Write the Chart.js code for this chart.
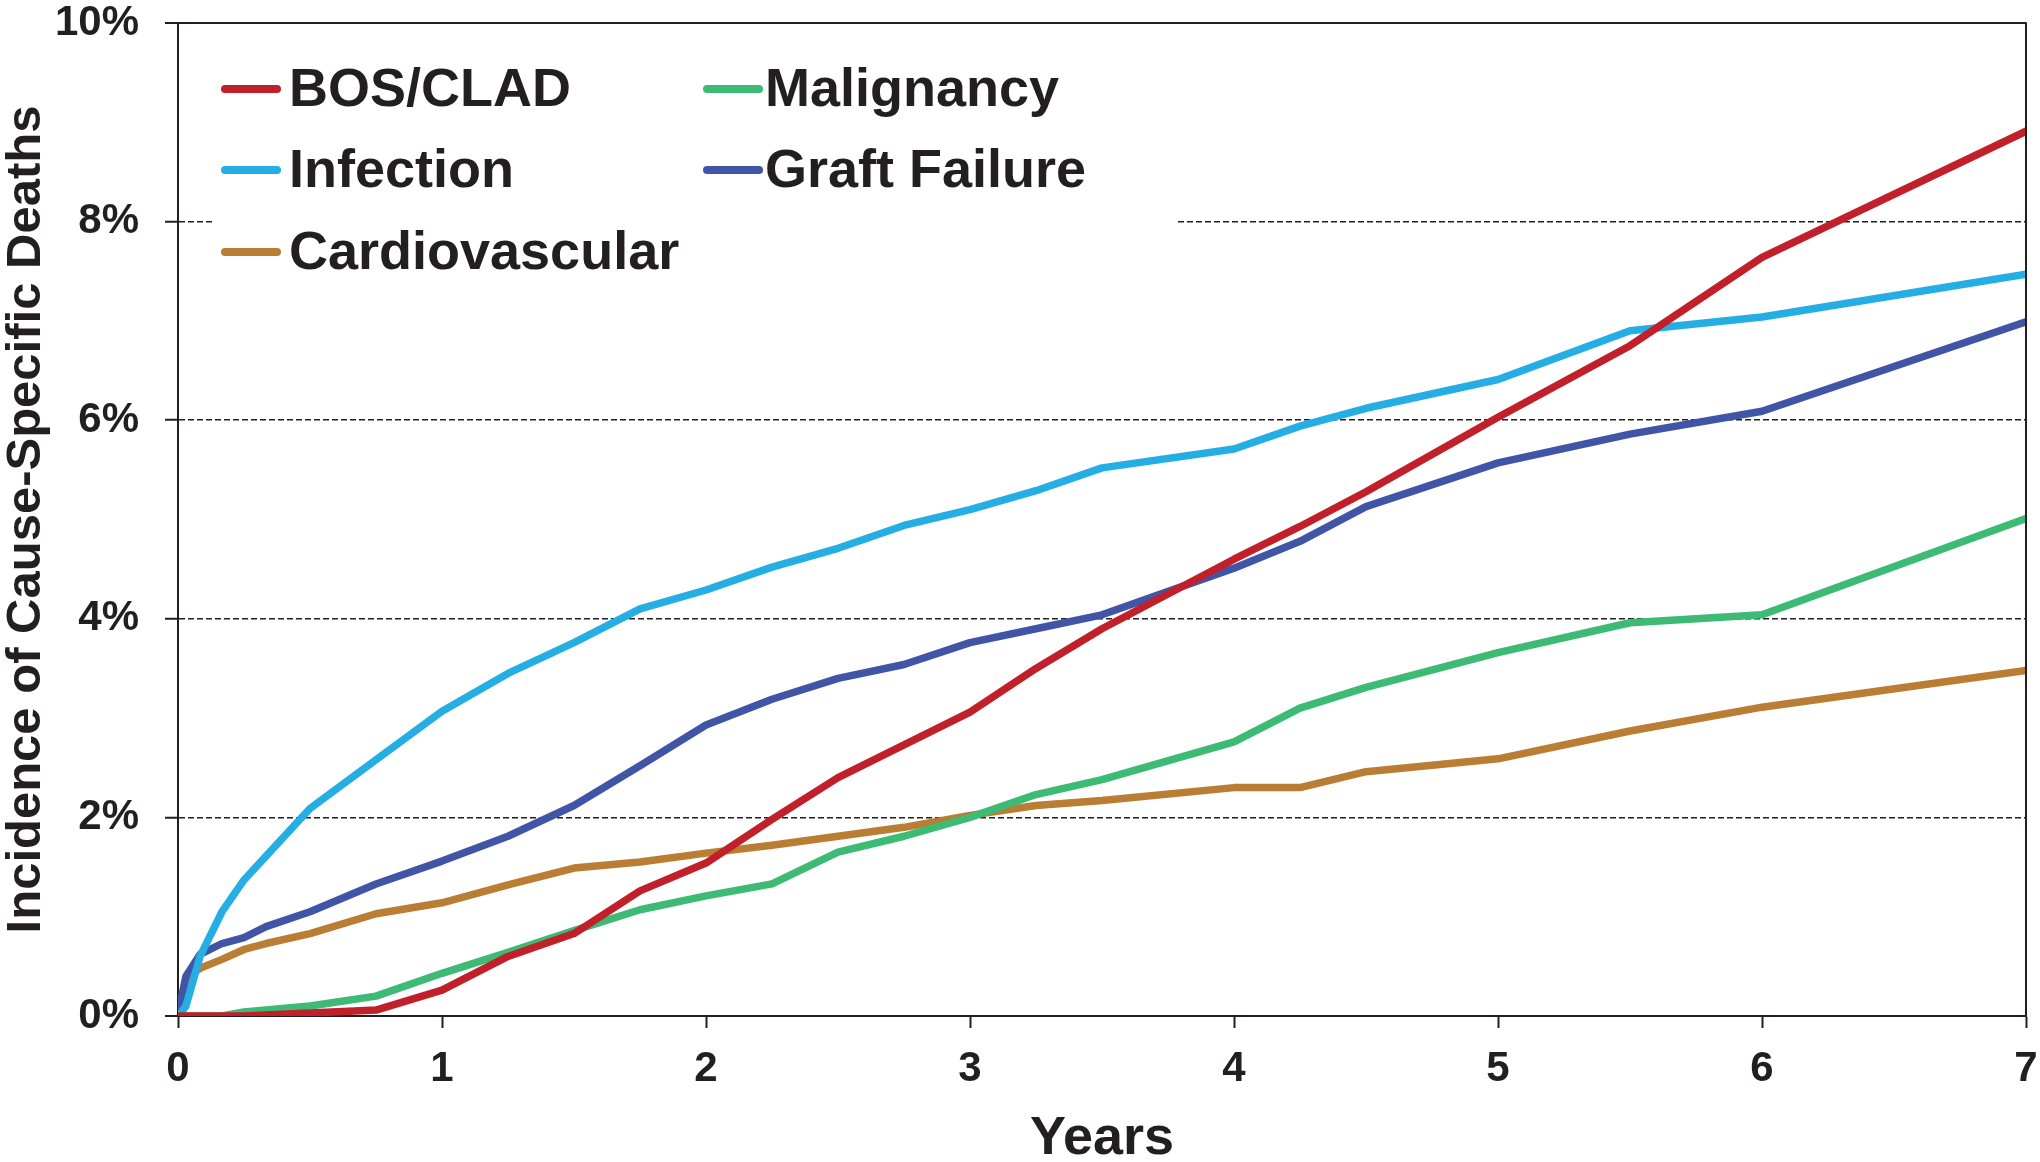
<!DOCTYPE html>
<html>
<head>
<meta charset="utf-8">
<script src="https://cdn.jsdelivr.net/npm/chart.js@4.4.0/dist/chart.umd.min.js"></script>
<style>
  html, body { margin: 0; padding: 0; background: #fff; }
  #wrap { width: 2040px; height: 1162px; }
</style>
</head>
<body>
<div id="wrap"><canvas id="line-chart" width="2040" height="1162"></canvas></div>
<script>
/* Data (years after transplant, % of cause-specific deaths) */
var years = [0, 0.03, 1/12, 1/6, 0.25, 1/3, 0.5, 0.75, 1, 1.25, 1.5, 1.75, 2, 2.25, 2.5, 2.75, 3, 3.25, 3.5, 4, 4.25, 4.5, 5, 5.5, 6, 7];
var bosClad = [0, 0, 0, 0, 0, 0.01, 0.03, 0.06, 0.26, 0.6, 0.83, 1.26, 1.54, 1.98, 2.4, 2.73, 3.06, 3.5, 3.9, 4.6, 4.93, 5.28, 6.03, 6.75, 7.64, 8.91];
var malignancy = [0, 0, 0, 0, 0.04, 0.06, 0.1, 0.2, 0.43, 0.64, 0.86, 1.07, 1.21, 1.33, 1.65, 1.81, 2.0, 2.23, 2.38, 2.76, 3.1, 3.31, 3.66, 3.96, 4.04, 5.01];
var infection = [0, 0.1, 0.6, 1.05, 1.37, 1.61, 2.09, 2.58, 3.07, 3.45, 3.76, 4.1, 4.29, 4.52, 4.71, 4.94, 5.1, 5.29, 5.52, 5.71, 5.94, 6.12, 6.41, 6.9, 7.04, 7.47];
var graftFailure = [0, 0.4, 0.62, 0.73, 0.79, 0.9, 1.05, 1.33, 1.56, 1.81, 2.12, 2.52, 2.93, 3.19, 3.4, 3.54, 3.76, 3.9, 4.04, 4.51, 4.78, 5.13, 5.57, 5.86, 6.09, 6.99];
var cardiovascular = [0, 0.38, 0.48, 0.57, 0.67, 0.73, 0.83, 1.03, 1.14, 1.32, 1.49, 1.55, 1.64, 1.72, 1.81, 1.9, 2.02, 2.12, 2.17, 2.3, 2.3, 2.46, 2.59, 2.87, 3.11, 3.48];

var seriesNames = ["BOS/CLAD", "Malignancy", "Infection", "Graft Failure", "Cardiovascular"];
var yTickValues = [0, 2, 4, 6, 8, 10];
var xTickValues = [0, 1, 2, 3, 4, 5, 6, 7];

var TEXT = '#231f20';
var FONT = "'Liberation Sans', Arial, Helvetica, sans-serif";

function pts(ys) {
  return ys.map(function (v, i) { return { x: years[i], y: v }; });
}

function line(label, values, color) {
  return {
    label: label,
    data: pts(values),
    borderColor: color,
    backgroundColor: color,
    borderWidth: 7.5,
    borderCapStyle: 'round',
    borderJoinStyle: 'round',
    pointRadius: 0,
    tension: 0,
    fill: false
  };
}

/* legend in two columns with a white box behind it */
var legendBox = {
  id: 'legendBox',
  afterDatasetsDraw: function (chart) {
    var ctx = chart.ctx;
    // [swatch x, row y, text x]
    var slots = [[221, 89, 289], [703, 89, 765], [221, 170, 289], [703, 170, 765], [221, 252, 289]];
    ctx.save();
    ctx.fillStyle = '#fff';
    ctx.fillRect(215, 45, 960, 250);
    ctx.font = 'bold 54px ' + FONT;
    ctx.textBaseline = 'middle';
    ctx.textAlign = 'left';
    chart.data.datasets.forEach(function (ds, i) {
      var s = slots[i];
      ctx.strokeStyle = ds.borderColor;
      ctx.lineWidth = 8;
      ctx.lineCap = 'round';
      ctx.beginPath();
      ctx.moveTo(s[0] + 4, s[1]);
      ctx.lineTo(s[0] + 56, s[1]);
      ctx.stroke();
      ctx.fillStyle = TEXT;
      ctx.fillText(ds.label, s[2], s[1] + 2);
    });
    // right edge of the frame
    var a = chart.chartArea;
    ctx.strokeStyle = TEXT;
    ctx.lineWidth = 2;
    ctx.beginPath();
    ctx.moveTo(a.right, a.top);
    ctx.lineTo(a.right, a.bottom);
    ctx.stroke();
    ctx.restore();
  }
};

new Chart(document.getElementById("line-chart"), {
  type: 'line',
  data: {
    datasets: [
      line(seriesNames[0], bosClad, '#c1202a'),
      line(seriesNames[1], malignancy, '#3dba74'),
      line(seriesNames[2], infection, '#25aee3'),
      line(seriesNames[3], graftFailure, '#4155a7'),
      line(seriesNames[4], cardiovascular, '#b97d33')
    ]
  },
  options: {
    responsive: false,
    animation: false,
    layout: { padding: { top: 23, right: 14, left: 0, bottom: 0 } },
    plugins: {
      legend: { display: false },
      tooltip: { enabled: false }
    },
    scales: {
      x: {
        type: 'linear',
        min: 0,
        max: 7,
        afterFit: function (s) { s.height = 146; s.paddingLeft = 0; s.paddingRight = 0; },
        afterBuildTicks: function (s) { s.ticks = xTickValues.map(function (v) { return { value: v }; }); },
        ticks: {
          color: TEXT,
          padding: 16,
          font: { family: FONT, size: 42, weight: 'bold' },
          callback: function (v) { return v; }
        },
        grid: {
          drawOnChartArea: false,
          drawTicks: true,
          tickLength: 12,
          tickWidth: 2,
          tickColor: TEXT,
          color: TEXT
        },
        border: { display: true, color: TEXT, width: 2 },
        title: {
          display: true,
          text: 'Years',
          color: TEXT,
          font: { family: FONT, size: 54, weight: 'bold', lineHeight: 0.85 },
          padding: { top: 0, bottom: 0 }
        }
      },
      y: {
        min: 0,
        max: 10,
        afterFit: function (s) { s.width = 178; s.paddingTop = 0; s.paddingBottom = 0; },
        afterBuildTicks: function (s) { s.ticks = yTickValues.map(function (v) { return { value: v }; }); },
        ticks: {
          color: TEXT,
          padding: 26,
          font: { family: FONT, size: 42, weight: 'bold' },
          callback: function (v) { return v + '%'; }
        },
        grid: {
          color: TEXT,
          lineWidth: function (c) { return (c.tick && (c.tick.value === 0 || c.tick.value === 10)) ? 2 : 1.5; },
          tickLength: 13,
          tickWidth: 2,
          tickColor: TEXT
        },
        border: {
          display: true,
          color: TEXT,
          width: 2,
          dash: function (c) { return (c.tick && (c.tick.value === 0 || c.tick.value === 10)) ? [] : [6, 3]; }
        },
        title: {
          display: true,
          text: 'Incidence of Cause-Specific Deaths',
          color: TEXT,
          font: { family: FONT, size: 49, weight: 'bold', lineHeight: 1 },
          padding: { top: 2, bottom: 0 }
        }
      }
    }
  },
  plugins: [legendBox]
});
</script>
</body>
</html>
